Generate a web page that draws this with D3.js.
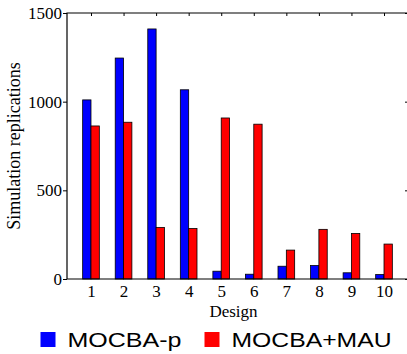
<!DOCTYPE html>
<html>
<head>
<meta charset="utf-8">
<script src="https://cdn.jsdelivr.net/npm/d3@7"></script>
<style>
  body { margin: 0; background: #fff; }
  svg { display: block; }
</style>
</head>
<body>
<div id="chart"></div>
<script>
// data
var designs = [1, 2, 3, 4, 5, 6, 7, 8, 9, 10];
var mocbaP = [1010, 1246, 1410, 1067, 44, 27, 72, 76, 35, 25];
var mocbaMau = [863, 884, 291, 285, 908, 873, 163, 280, 257, 197];
var yTicks = [0, 500, 1000, 1500];
var seriesNames = ["MOCBA-p", "MOCBA+MAU"];
var seriesColors = ["#0000ff", "#ff0000"];

var W = 407, H = 354;
var plot = { left: 67, right: 408, top: 13, bottom: 279 };
var serif = "'Liberation Serif', 'Times New Roman', serif";

var svg = d3.select("#chart")
    .append("svg")
    .attr("width", W)
    .attr("height", H);

// scales
var x = d3.scaleLinear()
    .domain([0.263, 10.737])
    .range([plot.left, plot.right]);

var y = d3.scaleLinear()
    .domain([0, 1500])
    .range([plot.bottom, plot.top]);

var barW = x(1.256) - x(1); // one bar, in pixels

// bars
var series = [mocbaP, mocbaMau];
series.forEach(function (vals, s) {
    svg.append("g")
        .selectAll("rect")
        .data(designs)
        .enter()
        .append("rect")
        .attr("x", function (d) { return x(d) - barW + s * barW; })
        .attr("y", function (d, i) { return y(vals[i]); })
        .attr("width", barW)
        .attr("height", function (d, i) { return y(0) - y(vals[i]); })
        .attr("fill", seriesColors[s])
        .attr("stroke", "#000")
        .attr("stroke-width", 0.8);
});

// left axis, ticks pointing out
svg.append("g")
    .attr("transform", "translate(" + plot.left + ",0)")
    .call(d3.axisLeft(y).tickValues(yTicks).tickFormat(d3.format("d")).tickSize(4).tickPadding(1))
    .call(function (g) {
        g.select(".domain").remove();
        g.selectAll("text")
            .style("font-family", serif)
            .style("font-size", "17px")
            .attr("fill", "#000");
    });

// bottom axis labels only
svg.append("g")
    .attr("transform", "translate(0," + plot.bottom + ")")
    .call(d3.axisBottom(x).tickValues(designs).tickFormat(d3.format("d")).tickSize(0).tickPadding(6))
    .call(function (g) {
        g.select(".domain").remove();
        g.selectAll("text")
            .style("font-family", serif)
            .style("font-size", "17px")
            .attr("fill", "#000");
    });

// top ticks (inward)
svg.append("g")
    .attr("transform", "translate(0," + plot.top + ")")
    .call(d3.axisBottom(x).tickValues(designs).tickSize(3).tickFormat(""))
    .call(function (g) { g.select(".domain").remove(); });

// right ticks (inward)
svg.append("g")
    .attr("transform", "translate(" + plot.right + ",0)")
    .call(d3.axisLeft(y).tickValues(yTicks).tickSize(3).tickFormat(""))
    .call(function (g) { g.select(".domain").remove(); });

// frame
svg.append("path")
    .attr("d", "M" + plot.left + "," + plot.bottom + "V" + plot.top + "H" + plot.right +
        "V" + plot.bottom + "Z")
    .attr("fill", "none")
    .attr("stroke", "#000")
    .attr("stroke-width", 1.2);

// axis titles
svg.append("text")
    .attr("text-anchor", "middle")
    .attr("x", (plot.left + plot.right) / 2 - 4)
    .attr("y", 317)
    .style("font-family", serif)
    .style("font-size", "17px")
    .text("Design");

svg.append("text")
    .attr("text-anchor", "middle")
    .attr("transform", "translate(20," + ((plot.top + plot.bottom) / 2) + ") rotate(-90)")
    .style("font-family", serif)
    .style("font-size", "18px")
    .text("Simulation replications");

// legend
var legX = [40.5, 204.5];
var legLen = [114, 160];
var leg = svg.append("g");
seriesNames.forEach(function (name, i) {
    leg.append("rect")
        .attr("x", legX[i])
        .attr("y", 332)
        .attr("width", 15)
        .attr("height", 15)
        .attr("fill", seriesColors[i]);
    leg.append("text")
        .attr("x", legX[i] + 27)
        .attr("y", 347)
        .attr("textLength", legLen[i])
        .attr("lengthAdjust", "spacingAndGlyphs")
        .style("font-family", "'Liberation Sans', Arial, sans-serif")
        .style("font-size", "21px")
        .text(name);
});
</script>
</body>
</html>
